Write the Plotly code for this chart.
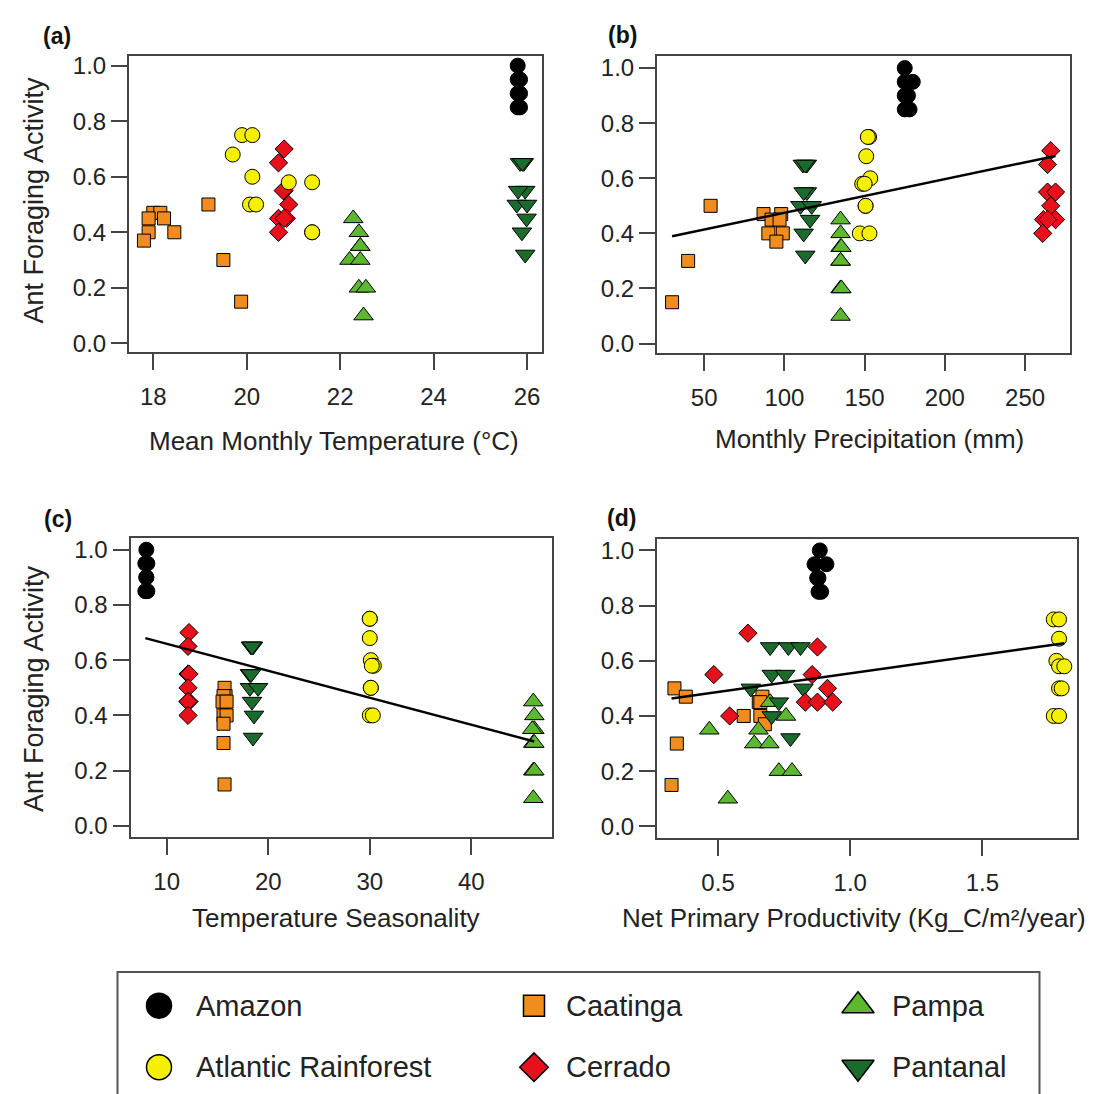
import plotly.graph_objects as go

# ---------------- DATA ----------------
biomes = ["Amazon", "Atlantic Rainforest", "Caatinga", "Cerrado", "Pampa", "Pantanal"]

amazon_activity = [1.00, 0.95, 0.95, 0.90, 0.90, 0.85, 0.85]
amazon_temp = [25.80, 25.80, 25.85, 25.80, 25.85, 25.80, 25.85]
amazon_precip = [175, 175, 180, 175, 177, 175, 178]
amazon_seasonality = [8.0, 7.9, 8.1, 8.0, 8.0, 7.9, 8.1]
amazon_npp = [0.885, 0.865, 0.91, 0.88, 0.875, 0.88, 0.89]

atlantic_activity = [0.75, 0.75, 0.68, 0.60, 0.58, 0.58, 0.50, 0.50, 0.40, 0.40]
atlantic_temp = [19.90, 20.12, 19.70, 20.12, 20.90, 21.40, 20.07, 20.20, 21.40, 21.40]
atlantic_precip = [152.8, 152.0, 151.0, 153.5, 148.5, 150.0, 150.6, 150.6, 147.0, 153.0]
atlantic_seasonality = [30.0, 30.0, 30.0, 30.1, 30.4, 30.2, 30.1, 30.1, 30.0, 30.3]
atlantic_npp = [1.77, 1.79, 1.79, 1.78, 1.79, 1.81, 1.79, 1.80, 1.77, 1.79]

caatinga_activity = [0.15, 0.30, 0.50, 0.47, 0.47, 0.45, 0.45, 0.40, 0.40, 0.37]
caatinga_temp = [19.88, 19.50, 19.18, 18.00, 18.15, 17.90, 18.23, 17.90, 18.45, 17.80]
caatinga_precip = [30, 40, 54, 87, 98, 92, 97, 90, 99, 95]
caatinga_seasonality = [15.7, 15.6, 15.7, 15.8, 15.6, 15.5, 15.9, 15.6, 15.9, 15.6]
caatinga_npp = [0.324, 0.344, 0.335, 0.378, 0.668, 0.654, 0.66, 0.597, 0.66, 0.677]

cerrado_activity = [0.70, 0.65, 0.55, 0.55, 0.50, 0.45, 0.45, 0.45, 0.40]
cerrado_temp = [20.80, 20.68, 20.80, 20.78, 20.90, 20.68, 20.85, 20.80, 20.68]
cerrado_precip = [266, 264, 264, 269, 266, 261.5, 269, 264, 261]
cerrado_seasonality = [12.2, 12.1, 12.1, 12.2, 12.1, 12.1, 12.2, 12.1, 12.1]
cerrado_npp = [0.613, 0.876, 0.484, 0.856, 0.914, 0.83, 0.876, 0.934, 0.544]

pampa_activity = [0.45, 0.40, 0.35, 0.35, 0.30, 0.30, 0.20, 0.20, 0.10]
pampa_temp = [22.28, 22.40, 22.43, 22.43, 22.20, 22.43, 22.40, 22.55, 22.50]
pampa_precip = [135, 135, 135, 135.5, 135, 135, 135, 135.5, 135]
pampa_seasonality = [46.1, 46.2, 46.2, 46.0, 46.1, 46.2, 46.1, 46.2, 46.1]
pampa_npp = [0.697, 0.757, 0.467, 0.653, 0.637, 0.694, 0.73, 0.78, 0.537]

pantanal_activity = [0.65, 0.65, 0.65, 0.55, 0.55, 0.50, 0.50, 0.45, 0.40, 0.32]
pantanal_temp = [25.85, 25.93, 25.90, 25.96, 25.81, 25.78, 26.00, 25.99, 25.89, 25.96]
pantanal_precip = [111.5, 114, 113, 114, 112, 110, 117, 116, 112, 113]
pantanal_seasonality = [18.3, 18.5, 18.4, 18.2, 18.3, 18.2, 19.0, 18.4, 18.6, 18.5]
pantanal_npp = [0.697, 0.766, 0.812, 0.703, 0.754, 0.624, 0.823, 0.73, 0.703, 0.774]

# linear fits (intercept, slope) shown in panels b, c, d
fit_precip = (0.353, 0.00122)
fit_seasonality = (0.757, -0.00977)
fit_npp = (0.4196, 0.1349)

y_ticks = [0.0, 0.2, 0.4, 0.6, 0.8, 1.0]
temp_ticks = [18, 20, 22, 24, 26]
precip_ticks = [50, 100, 150, 200, 250]
seasonality_ticks = [10, 20, 30, 40]
npp_ticks = [0.5, 1.0, 1.5]

x_titles = ["Mean Monthly Temperature (°C)", "Monthly Precipitation (mm)",
            "Temperature Seasonality", "Net Primary Productivity (Kg_C/m²/year)"]
y_title = "Ant Foraging Activity"
panel_letters = ["(a)", "(b)", "(c)", "(d)"]

# ---------------- STRUCTURE ----------------
data = {
    "Amazon": dict(y=amazon_activity, xs=[amazon_temp, amazon_precip, amazon_seasonality, amazon_npp]),
    "Atlantic Rainforest": dict(y=atlantic_activity, xs=[atlantic_temp, atlantic_precip, atlantic_seasonality, atlantic_npp]),
    "Caatinga": dict(y=caatinga_activity, xs=[caatinga_temp, caatinga_precip, caatinga_seasonality, caatinga_npp]),
    "Cerrado": dict(y=cerrado_activity, xs=[cerrado_temp, cerrado_precip, cerrado_seasonality, cerrado_npp]),
    "Pampa": dict(y=pampa_activity, xs=[pampa_temp, pampa_precip, pampa_seasonality, pampa_npp]),
    "Pantanal": dict(y=pantanal_activity, xs=[pantanal_temp, pantanal_precip, pantanal_seasonality, pantanal_npp]),
}

style = {
    "Amazon": dict(symbol="circle", color="#000000", size=15, lsize=25),
    "Atlantic Rainforest": dict(symbol="circle", color="#F5F000", size=15, lsize=25),
    "Caatinga": dict(symbol="square", color="#F28C1E", size=13, lsize=21),
    "Cerrado": dict(symbol="diamond", color="#E8101A", size=14, lsize=22),
    "Pampa": dict(symbol="triangle-up", color="#5CB82E", size=17, lsize=28),
    "Pantanal": dict(symbol="triangle-down", color="#1B6B2C", size=17, lsize=28),
}
draw_order = ["Caatinga", "Pampa", "Pantanal", "Cerrado", "Atlantic Rainforest", "Amazon"]

W, H = 1093, 1094
FONT = "Liberation Sans, Arial, Helvetica, sans-serif"
AX = "#444444"
TXT = "#222222"

# panel layout in pixels: (x0, x1, ytop, ybottom), axis ranges, title anchor
panels = [
    dict(px=(121, 534, 44, 343), xr=[17.48, 26.32], yr=[-0.033, 1.036], ticks=temp_ticks, fmt="d", fit=None,
         title_xy=(326, 432), title_anchor="center", letter_xy=(49, 24), ytitle_y=190),
    dict(px=(649, 1062, 44, 344), xr=[20.6, 278.0], yr=[-0.036, 1.045], ticks=precip_ticks, fmt="d", fit=fit_precip,
         title_xy=(861, 430), title_anchor="center", letter_xy=(614, 23), ytitle_y=None),
    dict(px=(122.5, 544, 530, 831), xr=[6.44, 47.94], yr=[-0.04, 1.042], ticks=seasonality_ticks, fmt="d", fit=fit_seasonality,
         title_xy=(328, 913), title_anchor="center", letter_xy=(50, 511), ytitle_y=682),
    dict(px=(649, 1069, 531, 832), xr=[0.269, 1.858], yr=[-0.042, 1.041], ticks=npp_ticks, fmt=".1f", fit=fit_npp,
         title_xy=(1080, 913), title_anchor="right", letter_xy=(613, 510), ytitle_y=None),
]

fig = go.Figure()
annotations = []
layout_axes = {}

for i, p in enumerate(panels):
    n = i + 1
    xa, ya = f"x{n}", f"y{n}"
    for b in draw_order:
        st = style[b]
        fig.add_trace(go.Scatter(
            x=data[b]["xs"][i], y=data[b]["y"], mode="markers", xaxis=xa, yaxis=ya,
            showlegend=False, name=b, cliponaxis=False,
            marker=dict(symbol=st["symbol"], size=st["size"], color=st["color"],
                        line=dict(color="black", width=1)),
        ))
    if p["fit"] is not None:
        allx = [v for b in biomes for v in data[b]["xs"][i]]
        x0, x1 = min(allx), max(allx)
        a, s = p["fit"]
        fig.add_trace(go.Scatter(x=[x0, x1], y=[a + s * x0, a + s * x1], mode="lines",
                                 xaxis=xa, yaxis=ya, showlegend=False,
                                 line=dict(color="black", width=2.5)))
    X0, X1, YT, YB = p["px"]
    common = dict(showline=True, mirror=True, linecolor=AX, linewidth=2, ticks="outside",
                  ticklen=16, tickwidth=2, tickcolor=AX, showgrid=False, zeroline=False,
                  tickfont=dict(family=FONT, size=24, color=TXT))
    layout_axes[f"xaxis{n}"] = dict(domain=[X0 / W, X1 / W], range=p["xr"], anchor=ya,
                                    tickmode="array", tickvals=p["ticks"],
                                    tickformat=p["fmt"], ticklabelstandoff=6, **common)
    layout_axes[f"yaxis{n}"] = dict(domain=[1 - YB / H, 1 - YT / H], range=p["yr"], anchor=xa,
                                    tickmode="array", tickvals=y_ticks, tickformat=".1f", **common)
    tx, ty = p["title_xy"]
    annotations.append(dict(text=x_titles[i], x=tx / W, y=1 - ty / H, xref="paper", yref="paper",
                            xanchor=p["title_anchor"], yanchor="middle", showarrow=False,
                            font=dict(family=FONT, size=26, color=TXT)))
    lx, ly = p["letter_xy"]
    annotations.append(dict(text=f"<b>{panel_letters[i]}</b>", x=lx / W, y=1 - ly / H, xref="paper", yref="paper",
                            xanchor="center", yanchor="middle", showarrow=False,
                            font=dict(family=FONT, size=23, color="#111111")))
    if p["ytitle_y"] is not None:
        annotations.append(dict(text=y_title, x=26 / W, y=1 - p["ytitle_y"] / H, xref="paper", yref="paper",
                                xanchor="center", yanchor="middle", textangle=-90, showarrow=False,
                                font=dict(family=FONT, size=27, color=TXT)))

# ---------------- LEGEND (drawn as its own pixel-scaled subplot) ----------------
legend_col_x = [151, 526, 850]
legend_text_x = [186, 556, 882]
legend_row_y = [1001, 1063]
for k, b in enumerate(biomes):
    col, row = k // 2, k % 2
    st = style[b]
    fig.add_trace(go.Scatter(
        x=[legend_col_x[col]], y=[legend_row_y[row]], mode="markers", xaxis="x5", yaxis="y5",
        showlegend=False, name=b, cliponaxis=False,
        marker=dict(symbol=st["symbol"], size=st["lsize"], color=st["color"],
                    line=dict(color="black", width=1.5)),
    ))
    annotations.append(dict(text=b, x=legend_text_x[col], y=legend_row_y[row], xref="x5", yref="y5",
                            xanchor="left", yanchor="middle", showarrow=False,
                            font=dict(family=FONT, size=29, color=TXT)))

layout_axes["xaxis5"] = dict(domain=[0, 1], range=[0, W], visible=False, anchor="y5")
layout_axes["yaxis5"] = dict(domain=[0, 1], range=[H, 0], visible=False, anchor="x5")

fig.update_layout(
    width=W, height=H, margin=dict(l=0, r=0, t=0, b=0),
    paper_bgcolor="white", plot_bgcolor="rgba(0,0,0,0)",
    font=dict(family=FONT, color=TXT),
    annotations=annotations,
    shapes=[dict(type="rect", xref="paper", yref="paper", x0=109.5 / W, x1=1031.5 / W,
                 y0=-0.05, y1=1 - 967 / H, line=dict(color="#555555", width=2))],
    showlegend=False,
    **layout_axes,
)

fig.write_html("out.html")
